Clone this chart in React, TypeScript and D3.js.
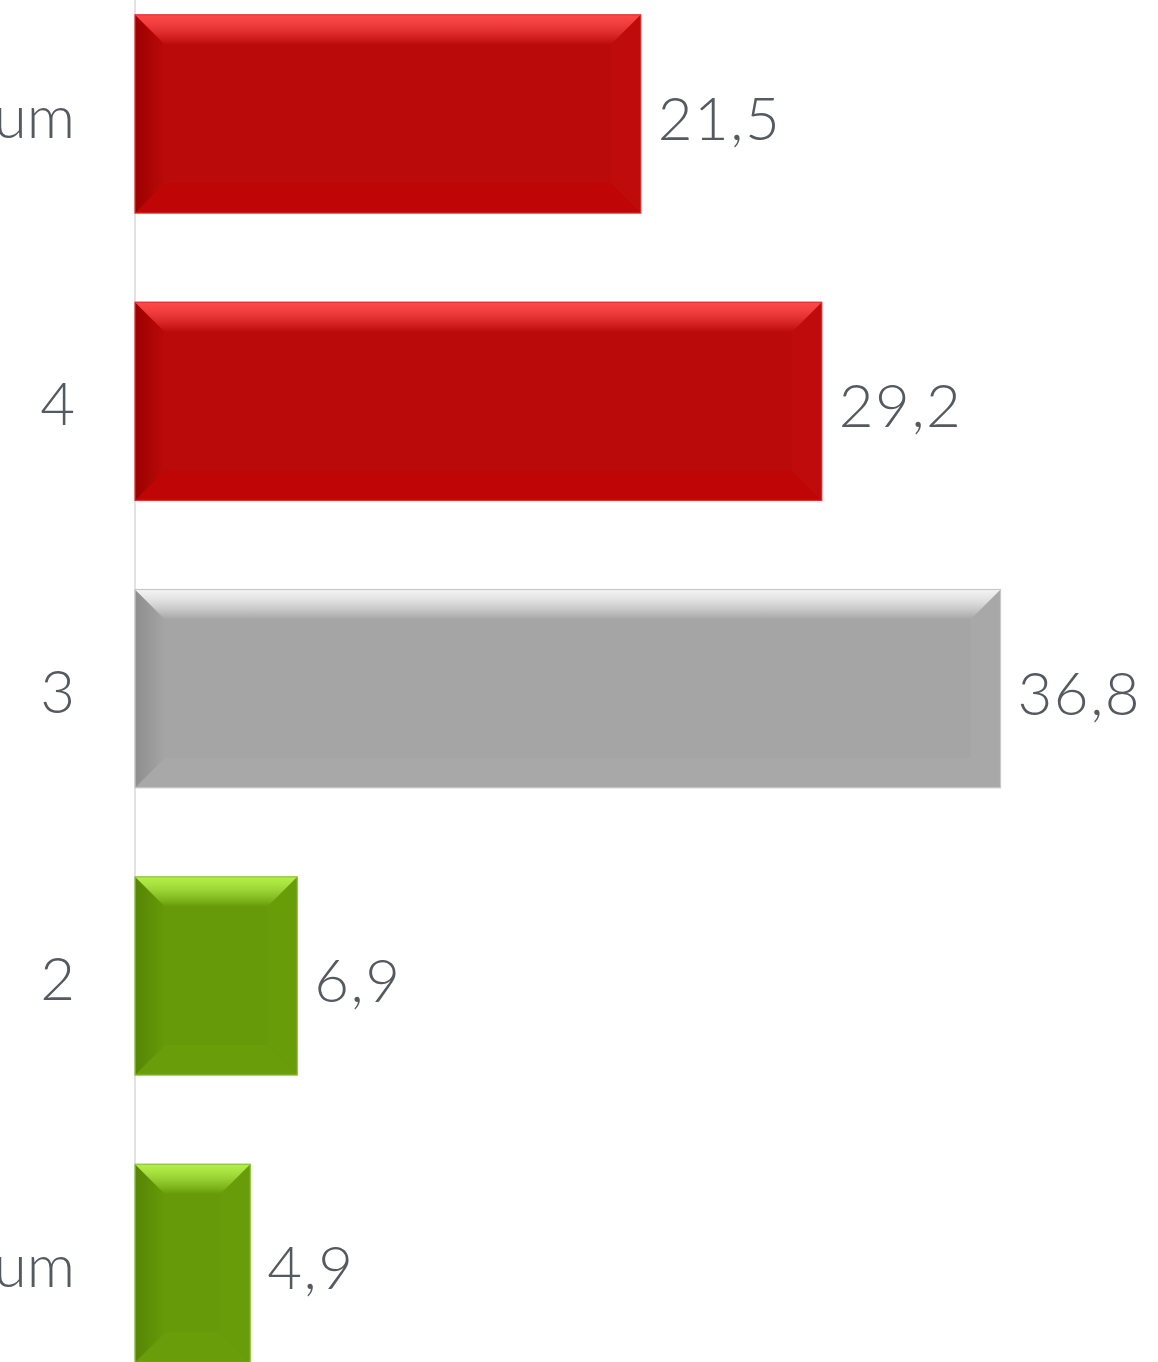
import React from "react";
import * as d3 from "d3";

const categories = ["Maximum", "4", "3", "2", "Minimum"];
const values = [21.5, 29.2, 36.8, 6.9, 4.9];
const valueLabels = ["21,5", "29,2", "36,8", "6,9", "4,9"];
const colorKeys = ["red", "red", "gray", "green", "green"];

const palettes: Record<string, { main: string; light: string; dark: string; right: string; bottom: string; edge: string }> = {
  red: { main: "#bb0a0a", light: "#ff4a4a", dark: "#9c0000", right: "#bf0b0b", bottom: "#bf0505", edge: "#e23030" },
  gray: { main: "#a5a5a5", light: "#f4f4f4", dark: "#8e8e8e", right: "#a8a8a8", bottom: "#a8a8a8", edge: "#c8c8c8" },
  green: { main: "#669a08", light: "#b4f04a", dark: "#578505", right: "#689c09", bottom: "#6a9d0a", edge: "#8cc53a" },
};

const W = 1158;
const H = 1362;

export default function App() {
  const x = d3.scaleLinear().domain([0, 40]).range([135, 135 + 23.52 * 40]);
  const y = d3.scaleBand<string>().domain(categories).range([-29.7, 1407]).paddingInner(0.31).paddingOuter(0.155);
  const bh = y.bandwidth();
  const b = 30;
  const font = "Lato, 'Open Sans', sans-serif";
  return (
    <div style={{ position: "absolute", left: 0, top: 0 }}>
      <svg width={W} height={H} style={{ display: "block", background: "#fff" }}>
        <defs>
          {Object.entries(palettes).map(([k, p]) => (
            <React.Fragment key={k}>
              <linearGradient id={`top-${k}`} x1="0" y1="0" x2="0" y2="1">
                <stop offset="0" stopColor={p.light} />
                <stop offset="0.3" stopColor={p.light} stopOpacity={0.8} />
                <stop offset="1" stopColor={p.main} />
              </linearGradient>
              <linearGradient id={`left-${k}`} x1="0" y1="0" x2="1" y2="0">
                <stop offset="0" stopColor={p.dark} />
                <stop offset="1" stopColor={p.main} />
              </linearGradient>
            </React.Fragment>
          ))}
        </defs>
        <line x1={135} x2={135} y1={0} y2={H} stroke="#d9d9d9" strokeWidth={1.5} />
        {categories.map((c, i) => {
          const p = palettes[colorKeys[i]];
          const k = colorKeys[i];
          const x0 = x(0);
          const x1 = x(values[i]);
          const y0 = y(c)!;
          const y1 = y0 + bh;
          const cy = y0 + bh / 2;
          return (
            <g key={c}>
              <rect x={x0} y={y0} width={x1 - x0} height={bh} fill={p.main} />
              <polygon points={`${x0},${y1} ${x1},${y1} ${x1 - b},${y1 - b} ${x0 + b},${y1 - b}`} fill={p.bottom} />
              <polygon points={`${x1},${y0} ${x1},${y1} ${x1 - b},${y1 - b} ${x1 - b},${y0 + b}`} fill={p.right} />
              <polygon points={`${x0},${y0} ${x0 + b},${y0 + b} ${x0 + b},${y1 - b} ${x0},${y1}`} fill={`url(#left-${k})`} />
              <polygon points={`${x0},${y0} ${x1},${y0} ${x1 - b},${y0 + b} ${x0 + b},${y0 + b}`} fill={`url(#top-${k})`} />
              <rect x={x0} y={y0} width={x1 - x0} height={bh} fill="none" stroke={p.edge} strokeWidth={1.2} />
              <text x={x1 + 17} y={cy + 26} fontFamily={font} fontWeight={300} fontSize={60} letterSpacing={1.5} fill="#555a61">
                {valueLabels[i]}
              </text>
              <text x={75} y={cy + 24} textAnchor="end" fontFamily={font} fontWeight={300} fontSize={60} fill="#555a61">
                {c}
              </text>
            </g>
          );
        })}
      </svg>
    </div>
  );
}
